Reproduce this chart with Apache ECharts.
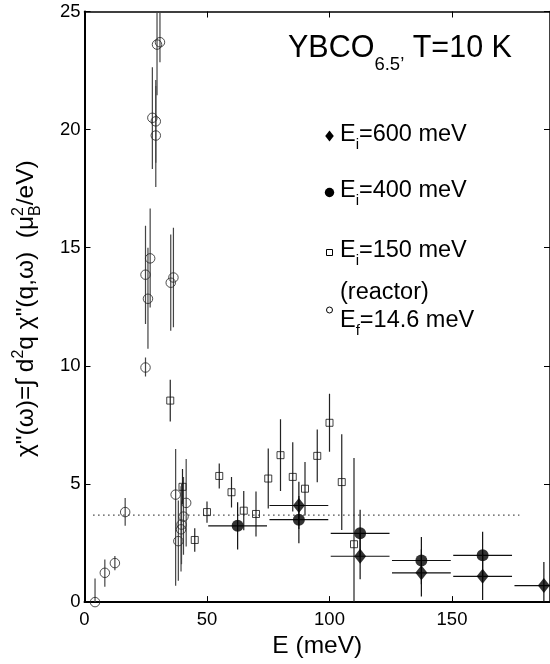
<!DOCTYPE html>
<html>
<head>
<meta charset="utf-8">
<script src="https://cdn.jsdelivr.net/npm/echarts@6/dist/echarts.min.js"></script>
<style>html,body{margin:0;padding:0;background:#fff}#c{width:550px;height:664px}</style>
</head>
<body>
<div id="c"></div>
<script>
// ---------------- DATA ----------------
// Reactor data (open circles), E_f = 14.6 meV
var reactorE  = [4.3, 8.3, 12.4, 16.6, 24.9, 24.9, 25.9, 26.8, 27.7, 29.1, 29.1, 29.6, 30.8, 35.2, 36.3, 37.2, 38.3, 39.4, 39.6, 40.4, 41.5];
var reactorV  = [0.0, 1.24, 1.65, 3.81, 9.93, 13.86, 12.84, 14.55, 20.5, 20.35, 19.75, 23.6, 23.7, 13.52, 13.74, 4.55, 2.58, 3.08, 3.28, 3.62, 4.2];
var reactorLo = [-1.0, 0.65, 1.35, 3.23, 9.55, 11.77, 10.72, 12.47, 18.33, 18.6, 17.57, 21.46, 22.85, 11.49, 11.63, 0.69, 0.9, 1.3, 1.6, 2.0, 2.35];
var reactorHi = [1.0, 1.8, 1.95, 4.41, 10.35, 15.93, 15.0, 16.66, 22.64, 22.1, 21.85, 25.74, 25.5, 15.56, 15.85, 6.48, 4.3, 4.9, 5.0, 5.3, 6.06];

// E_i = 150 meV (open squares)
var ei150E   = [35, 40, 45, 50, 55, 60, 65, 70, 75, 80, 85, 90, 95, 100, 105, 110];
var ei150V   = [8.53, 4.88, 2.63, 3.81, 5.34, 4.65, 3.87, 3.73, 5.23, 6.22, 5.30, 4.80, 6.19, 7.59, 5.08, 2.45];
var ei150Err = [0.88, 0.75, 0.5, 0.45, 0.53, 0.65, 0.83, 0.95, 1.27, 1.52, 1.47, 1.13, 1.12, 1.23, 2.03, 3.65];

// E_i = 400 meV (filled circles)
var ei400E    = [62.5, 87.5, 112.5, 137.5, 162.5];
var ei400V    = [3.23, 3.49, 2.91, 1.76, 1.98];
var ei400Err  = [1.0, 1.0, 1.0, 1.0, 1.0];
var ei400XErr = [12, 12, 12, 12, 12];

// E_i = 600 meV (filled diamonds)
var ei600E    = [87.5, 112.5, 137.5, 162.5, 187.5];
var ei600V    = [4.09, 1.94, 1.24, 1.09, 0.70];
var ei600Err  = [1.0, 0.97, 1.0, 1.0, 1.0];
var ei600XErr = [12, 12, 12, 12, 12];

// dotted reference level
var refLineE = [3.5, 177.5];
var refLineV = 3.68;

// axes
var xMin = 0, xMax = 190, xStep = 50;
var yMin = 0, yMax = 25, yStep = 5;

// ---------------- HELPERS ----------------
var FONT = '"Liberation Sans", Arial, Helvetica, sans-serif';
var mctx = document.createElement('canvas').getContext('2d');
function tw(t, fs) { mctx.font = fs + 'px ' + FONT; return mctx.measureText(t).width; }
function txt(x, base, t, fs) {
  return { type: 'text', x: x, y: base - 0.33 * fs,
    style: { text: t, font: fs + 'px ' + FONT, fill: '#000', align: 'left', verticalAlign: 'middle' } };
}
function run(x0, base, parts) {
  var x = x0, els = [];
  parts.forEach(function (p) {
    if (p.stack) {
      var w = 0;
      p.stack.forEach(function (s) { els.push(txt(x, base + (s.dy || 0), s.t, s.fs)); w = Math.max(w, tw(s.t, s.fs)); });
      x += w;
    } else {
      els.push(txt(x, base + (p.dy || 0), p.t, p.fs));
      x += tw(p.t, p.fs);
    }
  });
  return els;
}

function clamp(v, a, b) { return Math.max(a, Math.min(b, v)); }
function errSeries(data, color) {
  return {
    type: 'custom', xAxisIndex: 0, yAxisIndex: 0, z: 2, clip: true, silent: true,
    dimensions: ['x', 'y', 'xlo', 'xhi', 'ylo', 'yhi'],
    encode: { x: 0, y: 1 },
    data: data,
    renderItem: function (params, api) {
      var x = api.value(0), y = api.value(1);
      var xlo = clamp(api.value(2), xMin, xMax), xhi = clamp(api.value(3), xMin, xMax);
      var ylo = clamp(api.value(4), yMin, yMax), yhi = clamp(api.value(5), yMin, yMax);
      var ch = [];
      var a = api.coord([x, ylo]), b = api.coord([x, yhi]);
      ch.push({ type: 'line', shape: { x1: a[0], y1: a[1], x2: b[0], y2: b[1] }, style: { stroke: color, lineWidth: 1.2 } });
      if (xhi > xlo) {
        var c = api.coord([xlo, y]), d = api.coord([xhi, y]);
        ch.push({ type: 'line', shape: { x1: c[0], y1: c[1], x2: d[0], y2: d[1] }, style: { stroke: color, lineWidth: 1.2 } });
      }
      return { type: 'group', children: ch };
    }
  };
}

// build series data
var reactorPts = reactorE.map(function (e, i) { return [e, reactorV[i]]; });
var reactorErr = reactorE.map(function (e, i) { return [e, reactorV[i], e, e, reactorLo[i], reactorHi[i]]; });
var ei150Pts = ei150E.map(function (e, i) { return [e, ei150V[i]]; });
var ei150Bars = ei150E.map(function (e, i) { return [e, ei150V[i], e, e, ei150V[i] - ei150Err[i], ei150V[i] + ei150Err[i]]; });
var ei400Pts = ei400E.map(function (e, i) { return [e, ei400V[i]]; });
var ei400Bars = ei400E.map(function (e, i) { return [e, ei400V[i], e - ei400XErr[i], e + ei400XErr[i], ei400V[i] - ei400Err[i], ei400V[i] + ei400Err[i]]; });
var ei600Pts = ei600E.map(function (e, i) { return [e, ei600V[i]]; });
var ei600Bars = ei600E.map(function (e, i) { return [e, ei600V[i], e - ei600XErr[i], e + ei600XErr[i], ei600V[i] - ei600Err[i], ei600V[i] + ei600Err[i]]; });

// ---------------- TEXT (graphic) ----------------
var graphics = [];
// y-axis title, rotated
graphics.push({
  type: 'group', x: 34, y: 457, rotation: Math.PI / 2,
  children: run(0, 0, [
    { t: 'χ"(ω)=∫ d', fs: 24.5 }, { t: '2', fs: 16, dy: -10.5 },
    { t: 'q χ"(q,ω)  (μ', fs: 24.5 },
    { stack: [{ t: '2', fs: 16, dy: -10.5 }, { t: 'B', fs: 16, dy: 6.5 }] },
    { t: '/eV)', fs: 24.5 }
  ])
});
// title
graphics = graphics.concat(run(288, 58.5, [
  { t: 'YBCO', fs: 30.5 }, { t: '6.5’', fs: 18.5, dy: 13 }, { t: ' T=10 K', fs: 30.5 }
]));
// legend
var LX = 340, LF = 23.5, LS = 15;
graphics = graphics.concat(run(LX, 142, [{ t: 'E', fs: LF }, { t: 'i', fs: LS, dy: 7.5 }, { t: '=600 meV', fs: LF }]));
graphics = graphics.concat(run(LX, 198.5, [{ t: 'E', fs: LF }, { t: 'i', fs: LS, dy: 7.5 }, { t: '=400 meV', fs: LF }]));
graphics = graphics.concat(run(LX, 258, [{ t: 'E', fs: LF }, { t: 'i', fs: LS, dy: 7.5 }, { t: '=150 meV', fs: LF }]));
graphics = graphics.concat(run(LX, 300, [{ t: '(reactor)', fs: LF }]));
graphics = graphics.concat(run(LX, 328.5, [{ t: 'E', fs: LF }, { t: 'f', fs: LS, dy: 7.5 }, { t: '=14.6 meV', fs: LF }]));
// legend markers
var MX = 329.5;
graphics.push({ type: 'polygon', shape: { points: [[MX, 130.5], [MX + 4.3, 136], [MX, 141.5], [MX - 4.3, 136]] }, style: { fill: '#000' } });
graphics.push({ type: 'circle', shape: { cx: MX, cy: 192.5, r: 4.7 }, style: { fill: '#000' } });
graphics.push({ type: 'rect', shape: { x: MX - 3, y: 249.5, width: 6, height: 6 }, style: { fill: 'none', stroke: '#000', lineWidth: 1 } });
graphics.push({ type: 'circle', shape: { cx: MX, cy: 310, r: 3 }, style: { fill: 'none', stroke: '#000', lineWidth: 1 } });

// ---------------- CHART ----------------
var chart = echarts.init(document.getElementById('c'), null, { renderer: 'canvas' });
var axisFont = { fontFamily: FONT, fontSize: 18.5, color: '#000' };
chart.setOption({
  animation: false,
  backgroundColor: '#fff',
  grid: { left: 84.5, top: 11.5, right: -2, bottom: 52.5, containLabel: false },
  xAxis: [
    { type: 'value', min: xMin, max: xMax, interval: xStep, position: 'bottom',
      name: 'E (meV)', nameLocation: 'middle', nameGap: 38.5,
      nameTextStyle: { fontFamily: FONT, fontSize: 24.5, color: '#000', verticalAlign: 'middle' },
      axisLine: { show: true, onZero: false, lineStyle: { color: '#000', width: 2 } },
      axisTick: { show: true, inside: true, length: 6, lineStyle: { color: '#000', width: 1 } },
      axisLabel: Object.assign({ margin: 8, showMaxLabel: false }, axisFont),
      splitLine: { show: false } },
    { type: 'value', min: xMin, max: xMax, interval: xStep, position: 'top',
      axisLine: { show: true, onZero: false, lineStyle: { color: '#000', width: 1.5 } },
      axisTick: { show: true, inside: true, length: 6, lineStyle: { color: '#000', width: 1 } },
      axisLabel: { show: false }, splitLine: { show: false } }
  ],
  yAxis: [
    { type: 'value', min: yMin, max: yMax, interval: yStep, position: 'left',
      axisLine: { show: true, onZero: false, lineStyle: { color: '#000', width: 2 } },
      axisTick: { show: true, inside: true, length: 6, lineStyle: { color: '#000', width: 1 } },
      axisLabel: Object.assign({ margin: 4 }, axisFont),
      splitLine: { show: false } },
    { type: 'value', min: yMin, max: yMax, interval: yStep, position: 'right',
      axisLine: { show: true, onZero: false, lineStyle: { color: '#000', width: 1.5 } },
      axisTick: { show: true, inside: true, length: 6, lineStyle: { color: '#000', width: 1 } },
      axisLabel: { show: false }, splitLine: { show: false } }
  ],
  graphic: graphics,
  series: [
    { type: 'line', xAxisIndex: 0, yAxisIndex: 0, z: 1, symbol: 'none', silent: true,
      data: refLineE.map(function (e) { return [e, refLineV]; }),
      lineStyle: { color: '#444', width: 1.2, type: [1.5, 3.5] } },
    errSeries(reactorErr, '#444'),
    errSeries(ei150Bars, '#222'),
    errSeries(ei400Bars, '#111'),
    errSeries(ei600Bars, '#111'),
    { name: 'reactor', type: 'scatter', xAxisIndex: 0, yAxisIndex: 0, z: 3, data: reactorPts,
      symbol: 'circle', symbolSize: 9.5,
      itemStyle: { color: 'rgba(0,0,0,0)', borderColor: '#222', borderWidth: 1 } },
    { name: 'Ei150', type: 'scatter', xAxisIndex: 0, yAxisIndex: 0, z: 3, data: ei150Pts,
      symbol: 'rect', symbolSize: 7,
      itemStyle: { color: 'rgba(255,255,255,0)', borderColor: '#111', borderWidth: 1 } },
    { name: 'Ei400', type: 'scatter', xAxisIndex: 0, yAxisIndex: 0, z: 4, data: ei400Pts,
      symbol: 'circle', symbolSize: 12, itemStyle: { color: '#000' } },
    { name: 'Ei600', type: 'scatter', xAxisIndex: 0, yAxisIndex: 0, z: 4, data: ei600Pts,
      symbol: 'diamond', symbolSize: [12, 15], itemStyle: { color: '#000' } }
  ]
});
</script>
</body>
</html>
